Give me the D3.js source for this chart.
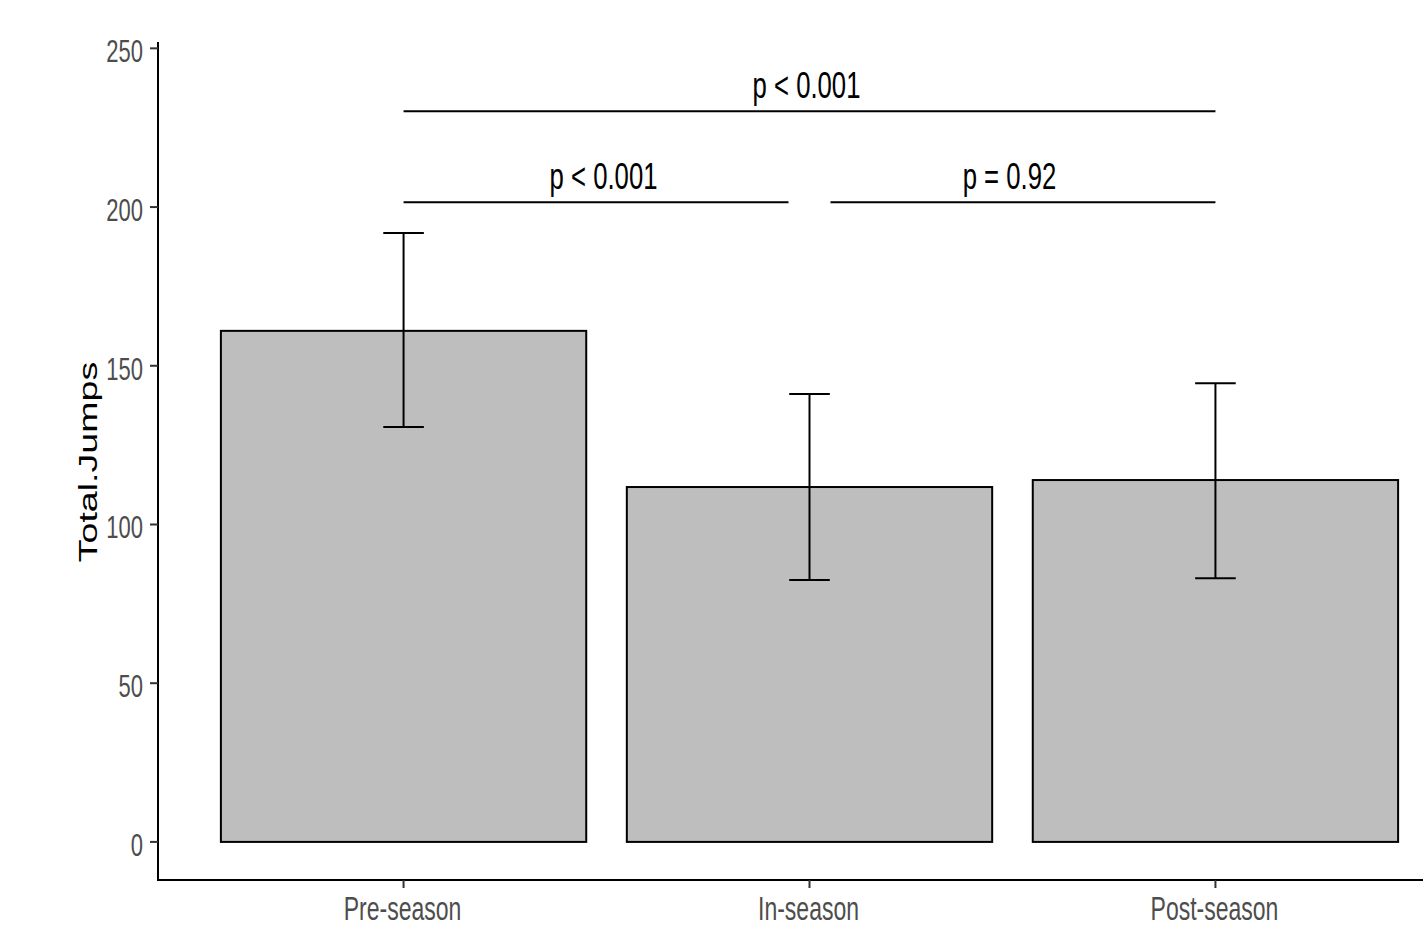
<!DOCTYPE html>
<html><head><meta charset="utf-8">
<script src="https://cdn.jsdelivr.net/npm/d3@7"></script>
<style>html,body{margin:0;padding:0;background:#fff;} text{font-family:"Liberation Sans",Arial,sans-serif;}</style>
</head><body>
<svg id="c" width="1423" height="927"></svg>
<script>
const categories = ["Pre-season", "In-season", "Post-season"];
const means = [161, 111.8, 114];
const errLow = [130.7, 82.5, 83.1];
const errHigh = [191.8, 141.1, 144.5];
const yTicks = [0, 50, 100, 150, 200, 250];
const brackets = [
  {from: "Pre-season", to: "In-season", y: 201.5, label: "p < 0.001"},
  {from: "In-season", to: "Post-season", y: 201.5, label: "p = 0.92"},
  {from: "Pre-season", to: "Post-season", y: 230.2, label: "p < 0.001"}
];
const yTitle = "Total.Jumps";

const svg = d3.select("#c");
const SY = 1.42; // vertical stretch of the reference text
const y = d3.scaleLinear().domain([-12, 252]).range([880, 42]);
const x = d3.scalePoint().domain(categories).range([160, 1459]).padding(0.6);
const step = x.step();
const barW = step * 0.9;
const capW = step * 0.1;

// bars
svg.selectAll("rect.bar").data(categories).join("rect")
  .attr("x", d => x(d) - barW / 2)
  .attr("y", (d, i) => y(means[i]))
  .attr("width", barW)
  .attr("height", (d, i) => y(0) - y(means[i]))
  .attr("fill", "#bebebe").attr("stroke", "#000").attr("stroke-width", 2);

// error bars
const eg = svg.append("g").attr("stroke", "#000").attr("stroke-width", 2);
categories.forEach((c, i) => {
  eg.append("line").attr("x1", x(c)).attr("x2", x(c)).attr("y1", y(errLow[i])).attr("y2", y(errHigh[i]));
  [errLow[i], errHigh[i]].forEach(v => {
    eg.append("line").attr("x1", x(c) - capW / 2).attr("x2", x(c) + capW / 2).attr("y1", y(v)).attr("y2", y(v));
  });
});

// brackets
const shorten = 21;
brackets.forEach(b => {
  const i0 = categories.indexOf(b.from), i1 = categories.indexOf(b.to);
  let x0 = x(b.from), x1 = x(b.to);
  if (i0 > 0 && i1 - i0 === 1) x0 += shorten;
  if (i1 < categories.length - 1 && i1 - i0 === 1) x1 -= shorten;
  svg.append("line").attr("x1", x0).attr("x2", x1).attr("y1", y(b.y)).attr("y2", y(b.y))
    .attr("stroke", "#000").attr("stroke-width", 2);
  const mx = (x(b.from) + x(b.to)) / 2 - 3;
  svg.append("text").attr("transform", `translate(${mx},${y(b.y) - 13}) scale(1,${SY})`)
    .attr("text-anchor", "middle").attr("font-size", 25.7).attr("fill", "#000").text(b.label);
});

// axes lines
svg.append("line").attr("x1", 158).attr("x2", 1423).attr("y1", 880).attr("y2", 880).attr("stroke", "#000").attr("stroke-width", 2);
svg.append("line").attr("x1", 158).attr("x2", 158).attr("y1", y(252)).attr("y2", 881).attr("stroke", "#000").attr("stroke-width", 2);

// y ticks
const yt = svg.append("g");
yTicks.forEach(t => {
  yt.append("line").attr("x1", 150).attr("x2", 158).attr("y1", y(t)).attr("y2", y(t)).attr("stroke", "#333").attr("stroke-width", 2);
  yt.append("text").attr("transform", `translate(143,${y(t) + 14}) scale(1,${SY})`)
    .attr("text-anchor", "end").attr("font-size", 22).attr("fill", "#4d4d4d").text(t);
});

// x ticks
categories.forEach(c => {
  svg.append("line").attr("x1", x(c)).attr("x2", x(c)).attr("y1", 880).attr("y2", 888).attr("stroke", "#333").attr("stroke-width", 2);
  svg.append("text").attr("transform", `translate(${x(c) - 1},920) scale(1,${SY})`)
    .attr("text-anchor", "middle").attr("font-size", 23).attr("fill", "#4d4d4d").text(c);
});

// y title
svg.append("text").attr("transform", `translate(97,462) rotate(-90) scale(${SY},1)`)
  .attr("text-anchor", "middle").attr("font-size", 26.5).attr("fill", "#000").text(yTitle);
</script>
</body></html>
